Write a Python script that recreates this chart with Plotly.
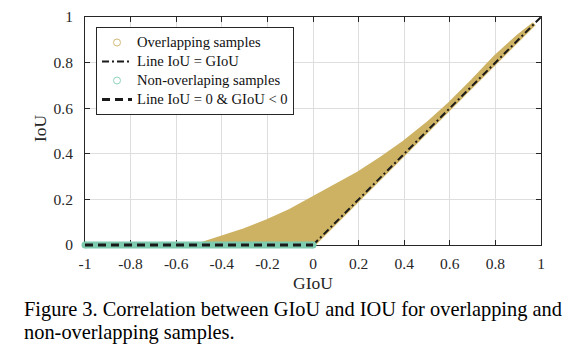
import plotly.graph_objects as go

# ---- data ----
# upper envelope of the overlapping samples cloud (GIoU, IoU)
overlap_upper_giou = [-0.5, -0.4, -0.3, -0.2, -0.1, 0.0, 0.1, 0.2, 0.3, 0.4, 0.5, 0.6, 0.7, 0.8, 0.9, 0.97]
overlap_upper_iou = [0.0, 0.033, 0.065, 0.105, 0.15, 0.205, 0.26, 0.315, 0.38, 0.45, 0.53, 0.62, 0.72, 0.825, 0.915, 0.97]
# lower envelope (from right end back to left end)
overlap_lower_giou = [0.97, 0.0, -0.5]
overlap_lower_iou = [0.97, 0.0, 0.0]

nonoverlap_giou = [-1.0, 0.0]
nonoverlap_iou = [0.0, 0.0]

line_eq_giou = [0.0, 1.0]
line_eq_iou = [0.0, 1.0]

line_zero_giou = [-1.0, 0.0]
line_zero_iou = [0.0, 0.0]

series_names = ["Overlapping samples", "Line IoU = GIoU",
                "Non-overlaping samples", "Line IoU = 0 & GIoU < 0"]

x_ticks = [-1, -0.8, -0.6, -0.4, -0.2, 0, 0.2, 0.4, 0.6, 0.8, 1]
x_tick_text = ["-1", "-0.8", "-0.6", "-0.4", "-0.2", "0", "0.2", "0.4", "0.6", "0.8", "1"]
y_ticks = [0, 0.2, 0.4, 0.6, 0.8, 1]
y_tick_text = ["0", "0.2", "0.4", "0.6", "0.8", "1"]

TAN = "#CDB264"
TAN_L = "#D2B877"
GREEN = "#7FCBB0"
GREEN_L = "#8ED3BD"
INK = "#262626"
SERIF = "Liberation Serif, Times New Roman, serif"


def leg(name):
    # legend text drawn at full size while the legend rows stay compact
    return '<span style="font-size:14.6px">' + name + "</span>"


fig = go.Figure()

# empty trace to create the visible main axes
fig.add_trace(go.Scatter(x=[None], y=[None], mode="markers", showlegend=False,
                         hoverinfo="skip", xaxis="x", yaxis="y"))

# overlapping samples cloud (filled envelope)
fig.add_trace(go.Scatter(
    x=overlap_upper_giou + overlap_lower_giou,
    y=overlap_upper_iou + overlap_lower_iou,
    mode="lines", fill="toself", fillcolor=TAN,
    line=dict(color=TAN, width=4), showlegend=False, hoverinfo="skip",
    xaxis="x2", yaxis="y2"))
fig.add_trace(go.Scatter(
    x=[None], y=[None], mode="markers", name=leg(series_names[0]),
    marker=dict(symbol="circle-open", size=7, color=TAN_L, line=dict(width=1)),
    xaxis="x2", yaxis="y2"))
# line IoU = GIoU
fig.add_trace(go.Scatter(
    x=line_eq_giou, y=line_eq_iou, mode="lines", name=leg(series_names[1]),
    line=dict(color="#1a1a1a", width=2, dash="7px,3px,2px,3px"),
    xaxis="x2", yaxis="y2"))
# non-overlapping samples
fig.add_trace(go.Scatter(
    x=nonoverlap_giou, y=nonoverlap_iou, mode="lines+markers",
    line=dict(color=GREEN, width=7),
    marker=dict(size=7, color=GREEN), cliponaxis=False,
    showlegend=False, hoverinfo="skip", xaxis="x2", yaxis="y2"))
fig.add_trace(go.Scatter(
    x=[None], y=[None], mode="markers", name=leg(series_names[2]),
    marker=dict(symbol="circle-open", size=7, color=GREEN_L, line=dict(width=1)),
    xaxis="x2", yaxis="y2"))
# line IoU = 0 & GIoU < 0
fig.add_trace(go.Scatter(
    x=line_zero_giou, y=line_zero_iou, mode="lines", name=leg(series_names[3]),
    line=dict(color="#1a1a1a", width=3, dash="8px,5px"),
    xaxis="x2", yaxis="y2"))

axis_common = dict(
    showline=True, linecolor=INK, linewidth=1, mirror="ticks",
    ticks="inside", ticklen=5, tickcolor=INK, tickwidth=1,
    showgrid=True, gridcolor="#DEDEDE", gridwidth=1, zeroline=False,
    tickfont=dict(family=SERIF, size=15.5, color=INK), automargin=False,
)

# plot area: x 85..541 px, y 17..255 px (y=0 at 245 px, y=1 at 17 px)
def px_x(p):
    return (p - 85) / 456


def px_y(p):
    return (255 - p) / 238


fig.update_layout(
    width=579, height=359,
    margin=dict(l=85, r=38, t=17, b=104, autoexpand=False),
    paper_bgcolor="white", plot_bgcolor="rgba(0,0,0,0)",
    xaxis=dict(range=[-1, 1], domain=[0, 1], anchor="y",
               tickmode="array", tickvals=x_ticks, ticktext=x_tick_text,
               ticklabelstandoff=4, **axis_common),
    yaxis=dict(range=[0, 1], domain=[10 / 238, 1], anchor="x",
               tickmode="array", tickvals=y_ticks, ticktext=y_tick_text,
               ticklabelstandoff=8, **axis_common),
    xaxis2=dict(range=[-1, 1], domain=[0, 1], anchor="y2", visible=False, automargin=False),
    yaxis2=dict(range=[-10 / 228, 1], domain=[0, 1], anchor="x2", visible=False, automargin=False),
    legend=dict(x=px_x(96), y=px_y(27), xanchor="left", yanchor="top",
                bgcolor="white", bordercolor=INK, borderwidth=1,
                font=dict(family=SERIF, size=11.2, color="#111"),
                tracegroupgap=0, itemwidth=30),
    showlegend=True,
    annotations=[
        dict(text="GIoU", xref="paper", yref="paper", x=px_x(313), y=px_y(283),
             xanchor="center", yanchor="middle", showarrow=False,
             font=dict(family=SERIF, size=17.5, color=INK)),
        dict(text="IoU", xref="paper", yref="paper", x=px_x(40), y=px_y(128),
             xanchor="center", yanchor="middle", showarrow=False, textangle=-90,
             font=dict(family=SERIF, size=17.5, color=INK)),
        dict(text="Figure 3. Correlation between GIoU and IOU for overlapping and",
             xref="paper", yref="paper", x=px_x(22), y=px_y(309),
             xanchor="left", yanchor="middle", showarrow=False,
             font=dict(family=SERIF, size=20.4, color="black")),
        dict(text="non-overlapping samples.",
             xref="paper", yref="paper", x=px_x(22), y=px_y(332),
             xanchor="left", yanchor="middle", showarrow=False,
             font=dict(family=SERIF, size=20.4, color="black")),
    ],
)

fig.write_html("out.html", config={"displayModeBar": False},
               post_script="document.body.style.margin='0px';")
